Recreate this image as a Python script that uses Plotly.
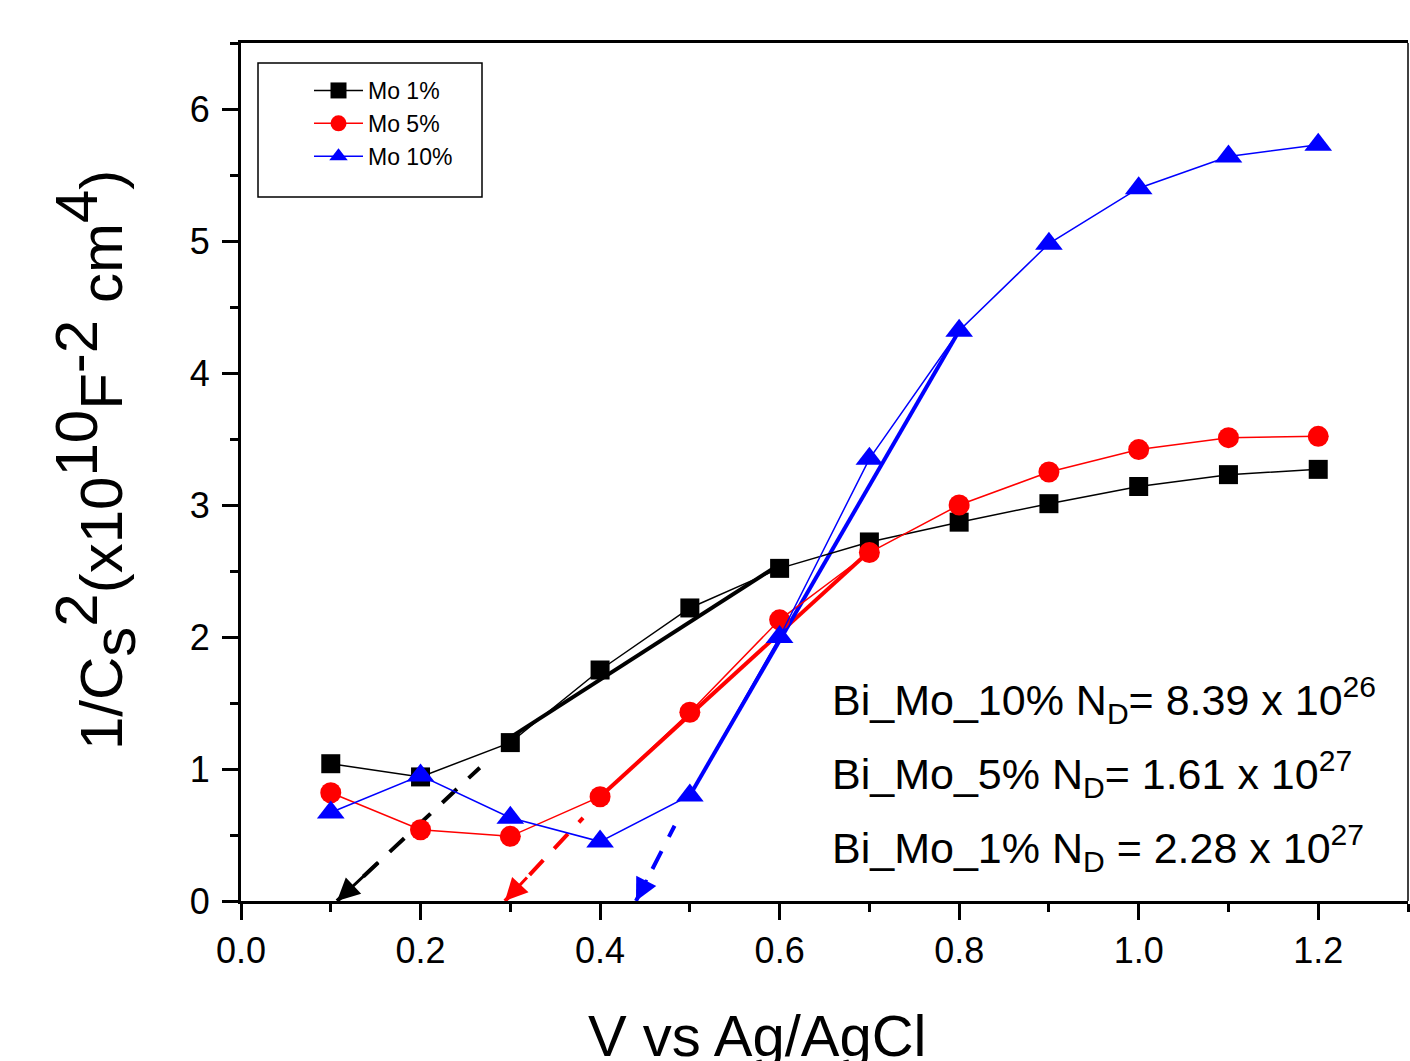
import plotly.graph_objects as go

# ---------------- data ----------------
voltage = [0.1, 0.2, 0.3, 0.4, 0.5, 0.6, 0.7, 0.8, 0.9, 1.0, 1.1, 1.2]
mo1 = [1.04, 0.94, 1.20, 1.75, 2.22, 2.52, 2.72, 2.87, 3.01, 3.14, 3.23, 3.27]
mo5 = [0.82, 0.54, 0.49, 0.79, 1.43, 2.13, 2.64, 3.00, 3.25, 3.42, 3.51, 3.52]
mo10 = [0.67, 0.95, 0.63, 0.45, 0.80, 2.00, 3.35, 4.32, 4.98, 5.40, 5.64, 5.73]
series_names = ["Mo 1%", "Mo 5%", "Mo 10%"]

# linear fit segments (solid) and extrapolations (dashed, ending on x-axis)
fit1_x, fit1_y = [0.3, 0.6], [1.24, 2.55]
fit5_x, fit5_y = [0.4, 0.7], [0.79, 2.65]
fit10_x, fit10_y = [0.5, 0.8], [0.80, 4.32]
ext1_x, ext1_y = [0.107, 0.266], [0.0, 1.01]
ext5_x, ext5_y = [0.294, 0.381], [0.0, 0.63]
ext10_x, ext10_y = [0.440, 0.483], [0.0, 0.57]

x_ticks = [0.0, 0.2, 0.4, 0.6, 0.8, 1.0, 1.2]
y_ticks = [0, 1, 2, 3, 4, 5, 6]

notes = [
    "Bi_Mo_10% N<sub>D</sub>= 8.39 x 10<sup>26</sup>",
    "Bi_Mo_5% N<sub>D</sub>= 1.61 x 10<sup>27</sup>",
    "Bi_Mo_1% N<sub>D</sub> = 2.28 x 10<sup>27</sup>",
]
note_y = [1.52, 0.96, 0.40]

colors = ["#000000", "#ff0000", "#0000ff"]
symbols = ["square", "circle", "triangle-up"]
msizes = [19, 21, 24]

FONT = "Liberation Sans, Arial, sans-serif"

fig = go.Figure()

fits = [(fit1_x, fit1_y, ext1_x, ext1_y),
        (fit5_x, fit5_y, ext5_x, ext5_y),
        (fit10_x, fit10_y, ext10_x, ext10_y)]
for (fx, fy, ex, ey), c in zip(fits, colors):
    fig.add_trace(go.Scatter(x=fx, y=fy, mode="lines", line=dict(color=c, width=4),
                             showlegend=False, hoverinfo="skip"))
    fig.add_trace(go.Scatter(x=ex, y=ey, mode="lines",
                             line=dict(color=c, width=4, dash="20px,16px"),
                             showlegend=False, hoverinfo="skip"))

for ys, name, c, s, ms in zip([mo1, mo5, mo10], series_names, colors, symbols, msizes):
    fig.add_trace(go.Scatter(x=voltage, y=ys, name=name, mode="lines+markers",
                             line=dict(color=c, width=1.5),
                             marker=dict(symbol=s, size=ms, color=c, line=dict(width=0))))

# arrow heads at the x-intercepts
for (fx, fy, ex, ey), c in zip(fits, colors):
    tipx, tipy = ex[0], ey[0]
    tx = tipx + 0.3 * (ex[1] - ex[0])
    ty = tipy + 0.3 * (ey[1] - ey[0])
    fig.add_annotation(x=tipx, y=tipy, ax=tx, ay=ty, xref="x", yref="y", axref="x", ayref="y",
                       text="", showarrow=True, arrowhead=2, arrowsize=1.5, arrowwidth=3,
                       arrowcolor=c)

for t, yv in zip(notes, note_y):
    fig.add_annotation(x=(830 - 241) / 1167, y=yv, xref="paper", yref="y", text=t,
                       showarrow=False, xanchor="left", yanchor="middle",
                       font=dict(family=FONT, size=43, color="black"))

# x-axis title
fig.add_annotation(x=(757 - 241) / 1167, y=(901 - 1035) / 858, xref="paper", yref="paper",
                   text="V vs Ag/AgCl", showarrow=False, xanchor="center", yanchor="middle",
                   font=dict(family=FONT, size=58, color="black"))

# y-axis title (full-size super/subscripts like the original)
big = '<span style="font-size:60px">%s</span>'
ytitle = ("1/C<sub>" + big % "s" + "</sub><sup>" + big % "2" + "</sup>(x10<sup>" + big % "10" +
          "</sup>F<sup>" + big % "-2" + "</sup> cm<sup>" + big % "4" + "</sup>)")
fig.add_annotation(x=(95 - 241) / 1167, y=(901 - 460) / 858, xref="paper", yref="paper",
                   text=ytitle, textangle=-90, showarrow=False, xanchor="center", yanchor="middle",
                   font=dict(family=FONT, size=60, color="black"))

# legend frame and right axis line
fig.add_shape(type="rect", xref="paper", yref="paper",
              x0=(258 - 241) / 1167, x1=(482 - 241) / 1167,
              y0=(901 - 197) / 858, y1=(901 - 63) / 858,
              line=dict(color="black", width=1.5), fillcolor="rgba(0,0,0,0)")
fig.add_shape(type="line", xref="paper", yref="paper", x0=1, x1=1, y0=0, y1=1,
              line=dict(color="black", width=1.5))

fig.update_layout(
    width=1410, height=1061,
    margin=dict(l=241, r=2, t=43, b=160),
    paper_bgcolor="white", plot_bgcolor="white",
    font=dict(family=FONT, color="black"),
    showlegend=True,
    legend=dict(x=(309 - 241) / 1167, y=(901 - 69) / 858, xanchor="left", yanchor="top",
                bgcolor="rgba(0,0,0,0)", borderwidth=0, font=dict(size=23, family=FONT),
                itemwidth=49, tracegroupgap=0),
)
fig.update_xaxes(range=[0, 1.3], tickvals=x_ticks, ticktext=["%.1f" % v for v in x_ticks],
                 showgrid=False, zeroline=False, showline=True, linecolor="black", linewidth=3,
                 mirror=True, ticks="outside", ticklen=16, tickwidth=3, tickcolor="black",
                 tickfont=dict(size=36, family=FONT), ticklabelstandoff=0,
                 minor=dict(dtick=0.1, tick0=0, ticks="outside", ticklen=8, tickwidth=3,
                            tickcolor="black", showgrid=False))
fig.update_yaxes(range=[0, 6.5], tickvals=y_ticks, ticktext=[str(v) for v in y_ticks],
                 showgrid=False, zeroline=False, showline=True, linecolor="black", linewidth=3,
                 mirror=False, ticks="outside", ticklen=16, tickwidth=3, tickcolor="black",
                 tickfont=dict(size=36, family=FONT), ticklabelstandoff=5,
                 minor=dict(dtick=0.5, tick0=0, ticks="outside", ticklen=8, tickwidth=3,
                            tickcolor="black", showgrid=False))

fig.write_html("out.html")
